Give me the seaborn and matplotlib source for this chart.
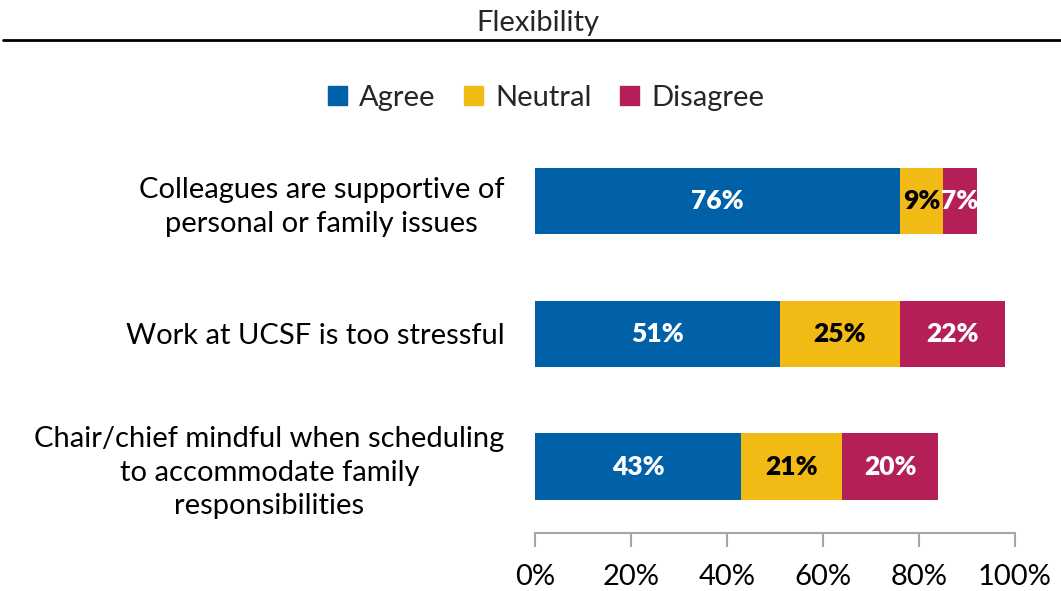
import matplotlib
matplotlib.use("Agg")
import matplotlib.pyplot as plt
import seaborn as sns
import pandas as pd
import numpy as np

categories = ["Colleagues are supportive of\npersonal or family issues",
              "Work at UCSF is too stressful",
              "Chair/chief mindful when scheduling\nto accommodate family\nresponsibilities"]
agree = [76, 51, 43]
neutral = [9, 25, 21]
disagree = [7, 22, 20]
series_names = ["Agree", "Neutral", "Disagree"]
colors = ["#0060A8", "#F2BA14", "#B41F57"]
label_colors = ["white", "black", "white"]
xticks = [0, 20, 40, 60, 80, 100]
xtick_labels = ["0%", "20%", "40%", "60%", "80%", "100%"]

sns.set_theme(style="white")
plt.rcParams['font.family'] = ['Lato', 'DejaVu Sans']

df = pd.DataFrame({"cat": categories, "Agree": agree, "Neutral": neutral, "Disagree": disagree})
df["c1"] = df["Agree"]
df["c2"] = df["Agree"] + df["Neutral"]
df["c3"] = df["c2"] + df["Disagree"]

fig = plt.figure(figsize=(10.61, 5.91), dpi=100)
ax = fig.add_axes([535/1061, 1-533/591, 480/1061, (533-134.5)/591])

for col, c in zip(["c3", "c2", "c1"], colors[::-1]):
    sns.barplot(data=df, x=col, y="cat", orient="h", color=c, width=0.5,
                ax=ax, saturation=1, edgecolor="none")

starts = [np.zeros(3), np.array(agree, float), np.array(agree, float) + np.array(neutral)]
vals = [agree, neutral, disagree]
for s, v, lc in zip(starts, vals, label_colors):
    for i in range(3):
        ax.text(s[i] + v[i] / 2, i, f"{v[i]}%", ha="center", va="center",
                color=lc, fontsize=19, fontweight="heavy")

ax.set_xlim(0, 100)
ax.set_ylim(2.5, -0.5)
ax.set_xticks(xticks)
ax.set_xticklabels(xtick_labels, fontsize=21, color="black")
ax.set_xlabel("")
ax.set_ylabel("")
ax.tick_params(axis="x", length=10, width=1.5, color="#A6A6A6", direction="out", pad=12, bottom=True)
ax.tick_params(axis="y", length=0, labelsize=21, pad=22, labelcolor="black")
for lab in ax.get_yticklabels():
    lab.set_horizontalalignment("right")
    lab.set_multialignment("center")
    lab.set_linespacing(1.35)
for sp in ["top", "right", "left"]:
    ax.spines[sp].set_visible(False)
ax.spines["bottom"].set_color("#A6A6A6")
ax.spines["bottom"].set_linewidth(1.5)

handles = [plt.Rectangle((0, 0), 1, 1, color=c) for c in colors]
fig.legend(handles, series_names, loc="center", bbox_to_anchor=(546/1061, 1-98/591),
           ncol=3, frameon=False, fontsize=21, handlelength=0.65, handleheight=0.65,
           handletextpad=0.4, columnspacing=1.0)

fig.text(538/1061, 1-23/591, "Flexibility", ha="center", va="center", fontsize=21)
fig.add_artist(plt.Line2D([3/1061, 1], [1-40/591, 1-40/591], color="black", linewidth=2,
                          transform=fig.transFigure))

fig.savefig("out.png", dpi=100)
